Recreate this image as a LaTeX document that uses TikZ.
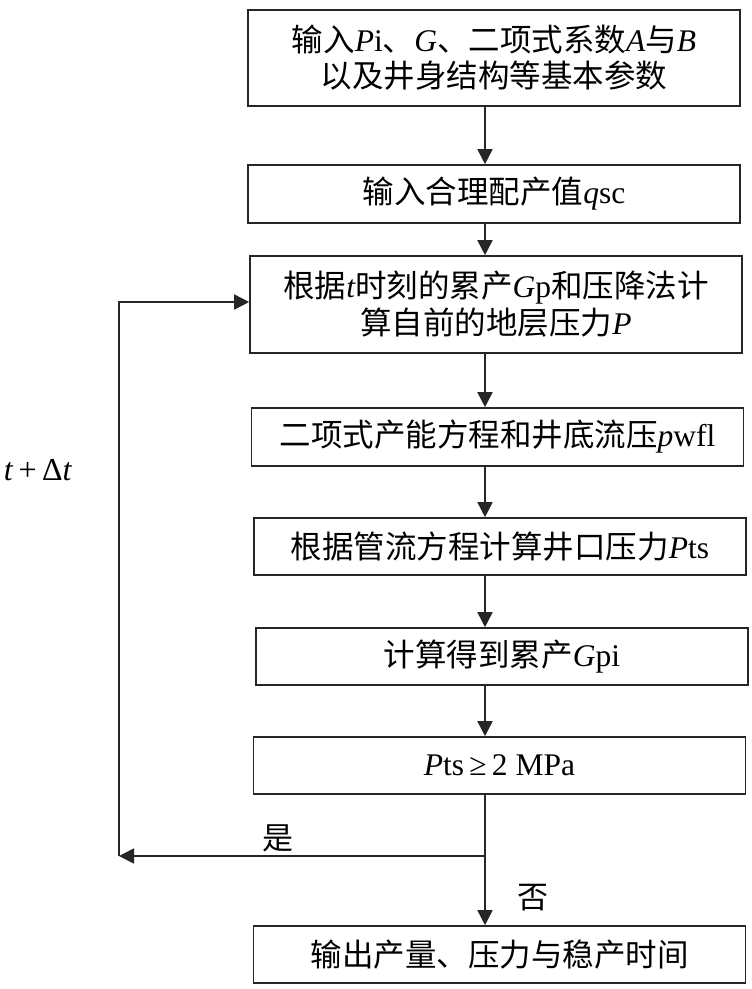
\documentclass[tikz,border=0pt]{standalone}
\usepackage{fontspec}
\setmainfont{Liberation Serif}
\newfontfamily\cjk{Noto Sans CJK SC}
\usetikzlibrary{arrows.meta}
\newcommand\lt[1]{{\rmfamily #1}}
\newcommand\li[1]{{\rmfamily\itshape #1}}
\tikzset{
  boxnode/.style={draw=black!85, line width=1.6pt, minimum width=492pt, inner sep=0pt,
    align=center, font=\fontsize{31.5}{36}\selectfont\cjk},
  arr/.style={draw=black!85, line width=1.6pt, -{Triangle[length=15pt,width=15pt]}},
  ln/.style={draw=black!85, line width=1.6pt},
  lbl/.style={inner sep=0pt, font=\fontsize{31}{36}\selectfont\cjk}
}
\begin{document}
\begin{tikzpicture}[x=1pt,y=-1pt]
\useasboundingbox (0,0) rectangle (752,989);
\node[boxnode, minimum height=96pt] (b1) at (494,58) {输入\li{P}\lt{i}、\li{G}、二项式系数\li{A}与\li{B}\\以及井身结构等基本参数};
\node[boxnode, minimum height=58pt] (b2) at (494,194) {输入合理配产值\li{q}\lt{sc}};
\node[boxnode, minimum height=97pt, font=\fontsize{31.5}{37}\selectfont\cjk] (b3) at (496,304.5) {根据\li{t}时刻的累产\li{G}\lt{p}和压降法计\\算自前的地层压力\li{P}};
\node[boxnode, minimum height=58pt] (b4) at (497.5,437) {二项式产能方程和井底流压\li{p}\lt{wfl}};
\node[boxnode, minimum height=57pt] (b5) at (500,546.5) {根据管流方程计算井口压力\li{P}\lt{ts}};
\node[boxnode, minimum height=57pt] (b6) at (502,656.5) {计算得到累产\li{G}\lt{pi}};
\node[boxnode, minimum height=57pt] (b7) at (499.5,765.5) {\li{P}\lt{ts\,≥\,2 MPa}};
\node[boxnode, minimum height=57pt] (b8) at (499.5,954.5) {输出产量、压力与稳产时间};
\coordinate (ax) at (485,0);
\coordinate (br) at (485,856);
\coordinate (cl) at (119,856);
\coordinate (ct) at (119,302);
\draw[arr] (b1.south -| ax) -- (b2.north -| ax);
\draw[arr] (b2.south -| ax) -- (b3.north -| ax);
\draw[arr] (b3.south -| ax) -- (b4.north -| ax);
\draw[arr] (b4.south -| ax) -- (b5.north -| ax);
\draw[arr] (b5.south -| ax) -- (b6.north -| ax);
\draw[arr] (b6.south -| ax) -- (b7.north -| ax);
\draw[arr] (b7.south -| ax) -- (b8.north -| ax);
\draw[arr] (br) -- (cl);
\draw[arr] (cl) -- (ct) -- (ct -| b3.west);
\node[lbl] (yes) at (278,838) {是};
\node[lbl] (no) at (533,898) {否};
\node[inner sep=0pt, font=\fontsize{32}{36}\selectfont] (dt) at (38,470) {\textit{t}\,+\,Δ\textit{t}};
\end{tikzpicture}
\end{document}
